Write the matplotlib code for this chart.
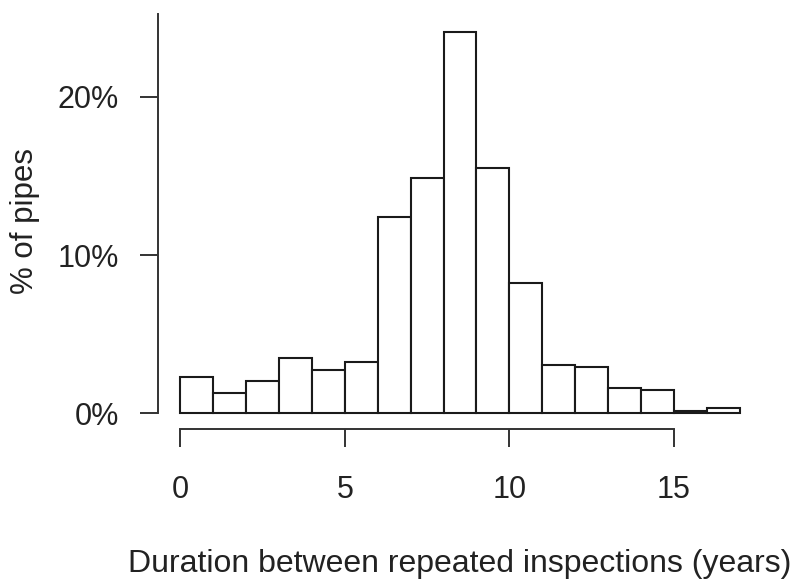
import numpy as np
import matplotlib
matplotlib.use("Agg")
import matplotlib.pyplot as plt

# Histogram of durations between repeated inspections (bins of 1 year)
bin_edges = list(range(0, 18))
pct_pipes = [2.27, 1.29, 2.0, 3.51, 2.74, 3.26, 12.41, 14.87, 24.1, 15.5,
             8.25, 3.07, 2.9, 1.57, 1.45, 0.14, 0.29]
x_ticks = [0, 5, 10, 15]
y_ticks = [0, 10, 20]
y_ticklabels = ["0%", "10%", "20%"]

plt.rcParams['font.family'] = ['Liberation Sans', 'DejaVu Sans']

W, H = 795, 581
fig = plt.figure(figsize=(W / 100, H / 100), dpi=100)
# plot region in pixels: left 158, right 762, top 14, bottom 429
ax = fig.add_axes([158 / W, 1 - 429 / H, (762 - 158) / W, (429 - 14) / H])

ax.bar(bin_edges[:-1], pct_pipes, width=1, align='edge',
       facecolor='white', edgecolor='#1a1a1a', linewidth=1.5)

ax.set_xlim(-0.68, 17.68)
ax.set_ylim(-1.01, 25.25)

for s in ['top', 'right']:
    ax.spines[s].set_visible(False)
ax.spines['left'].set_bounds(0, 25.25)
ax.spines['bottom'].set_bounds(0, 15)
for s in ['left', 'bottom']:
    ax.spines[s].set_linewidth(1.4)
    ax.spines[s].set_color('#333333')

ax.set_xticks(x_ticks)
ax.set_xticklabels([str(v) for v in x_ticks])
ax.set_yticks(y_ticks)
ax.set_yticklabels(y_ticklabels)
ax.tick_params(axis='both', direction='out', length=13, width=1.4,
               color='#333333', labelsize=22, labelcolor='#222222')
ax.tick_params(axis='x', pad=20)
ax.tick_params(axis='y', pad=15)

fig.text(25 / W, 1 - 221 / H, "% of pipes", rotation=90, ha='center',
         va='center', fontsize=22.5, color='#222222')
fig.text(460 / W, 1 - 564 / H, "Duration between repeated inspections (years)",
         ha='center', va='center', fontsize=23, color='#222222')

fig.savefig("out.png", dpi=100)
